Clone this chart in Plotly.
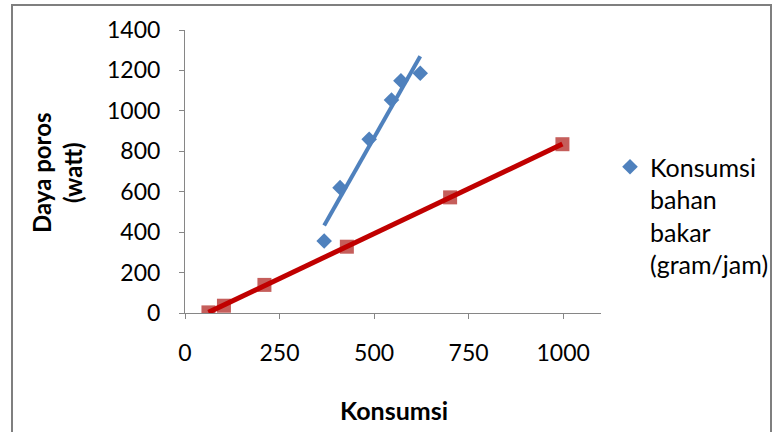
import numpy as np
import plotly.graph_objects as go

# Fuel consumption (blue diamonds) vs shaft power
konsumsi_bb_x = [368, 410, 487, 546, 571, 622]
konsumsi_bb_y = [356, 620, 859, 1054, 1149, 1186]

# Second measured series (red squares)
seri2_x = [62, 103, 210, 428, 701, 998]
seri2_y = [3, 36, 139, 328, 572, 835]

x_ticks = [0, 250, 500, 750, 1000]
y_ticks = [0, 200, 400, 600, 800, 1000, 1200, 1400]

legend_name = "Konsumsi<br>bahan<br>bakar<br>(gram/jam)"
x_title = "Konsumsi"
y_title = "Daya poros<br>(watt)"

W, H = 774, 432
L, R, T, B = 185, 173, 30, 119
PW, PH = W - L - R, H - T - B


def px_to_paper(px, py):
    return (px - L) / PW, (H - B - py) / PH


def linear_fit(xs, ys):
    xs = np.asarray(xs, float)
    ys = np.asarray(ys, float)
    k, c = np.polyfit(xs, ys, 1)
    xx = np.array([xs.min(), xs.max()])
    return xx, k * xx + c


FONT = "Lato"
BLUE = "#4F81BD"

fig = go.Figure()

fig.add_trace(go.Scatter(
    x=seri2_x, y=seri2_y, mode="markers", showlegend=False,
    marker=dict(symbol="square", size=14, color="#C0504D", opacity=0.92,
                line=dict(width=0)),
))
fig.add_trace(go.Scatter(
    x=konsumsi_bb_x, y=konsumsi_bb_y, mode="markers", name=legend_name,
    marker=dict(symbol="diamond", size=12, color=BLUE, line=dict(width=0)),
))

tx, ty = linear_fit(konsumsi_bb_x, konsumsi_bb_y)
fig.add_trace(go.Scatter(x=tx, y=ty, mode="lines", showlegend=False,
                         line=dict(color=BLUE, width=4)))
tx2, ty2 = linear_fit(seri2_x, seri2_y)
fig.add_trace(go.Scatter(x=tx2, y=ty2, mode="lines", showlegend=False,
                         line=dict(color="#C00000", width=5)))

axis_common = dict(
    showgrid=False, zeroline=False, showline=True, linecolor="#868686",
    linewidth=1, ticks="outside", ticklen=5, tickcolor="#868686",
    tickfont=dict(family=FONT, size=23, color="#000000"),
)

fig.update_xaxes(range=[0, 1100], tickvals=x_ticks, ticklabelstandoff=14,
                 **axis_common)
fig.update_yaxes(range=[0, 1400], tickvals=y_ticks, ticklabelstandoff=14,
                 **axis_common)

bx0, by0 = px_to_paper(12, 5)
bx1, by1 = px_to_paper(771, 440)
xt_x, xt_y = px_to_paper(394, 410)
yt_x, yt_y = px_to_paper(57, 173)
lg_x, lg_y = px_to_paper(610, 144)

fig.update_layout(
    width=W, height=H,
    margin=dict(l=L, r=R, t=T, b=B, autoexpand=False),
    paper_bgcolor="white", plot_bgcolor="white",
    font=dict(family=FONT, color="#000000"),
    showlegend=True,
    legend=dict(x=lg_x, y=lg_y, xanchor="left", yanchor="top",
                font=dict(family=FONT, size=25, color="#000000"),
                itemwidth=30, valign="top", bgcolor="rgba(0,0,0,0)",
                tracegroupgap=0),
    shapes=[dict(type="rect", xref="paper", yref="paper",
                 x0=bx0, y0=by1, x1=bx1, y1=by0,
                 line=dict(color="#7F7F7F", width=2))],
    annotations=[
        dict(text="<b>" + x_title + "</b>", xref="paper", yref="paper",
             x=xt_x, y=xt_y, showarrow=False, xanchor="center",
             yanchor="middle", font=dict(family=FONT, size=25)),
        dict(text="<b>" + y_title + "</b>", xref="paper", yref="paper",
             x=yt_x, y=yt_y, showarrow=False, xanchor="center",
             yanchor="middle", textangle=-90,
             font=dict(family=FONT, size=24)),
    ],
)

fig.write_html("out.html")
